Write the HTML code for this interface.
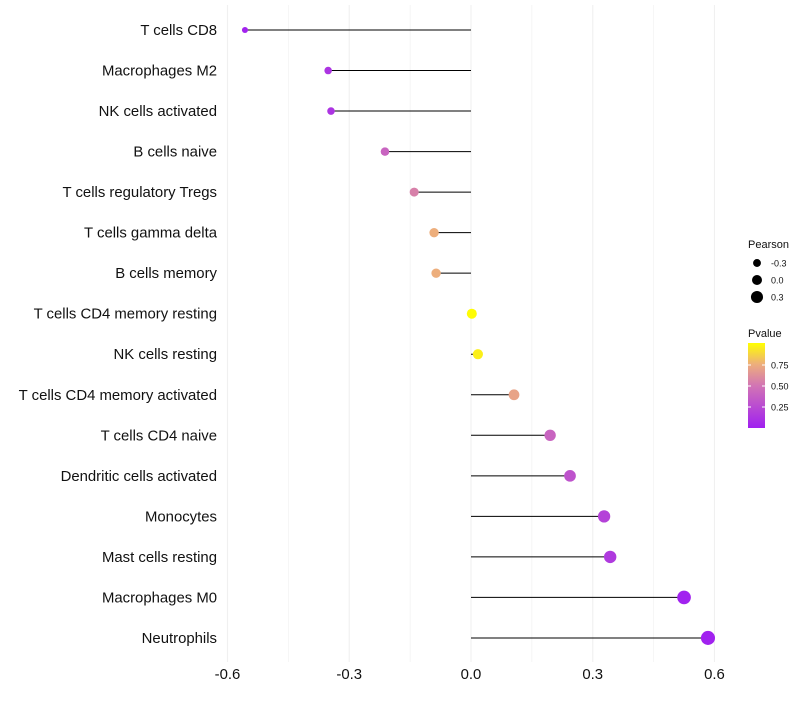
<!DOCTYPE html>
<html><head><meta charset="utf-8"><style>
body{margin:0;background:#fff;font-family:"Liberation Sans",sans-serif}
</style></head><body>
<svg id="c" width="800" height="700" xmlns="http://www.w3.org/2000/svg">
<defs><linearGradient id="pg" x1="0" y1="1" x2="0" y2="0">
<stop offset="0" stop-color="#A020F0"/><stop offset="0.5" stop-color="#D275B4"/><stop offset="0.75" stop-color="#EDAE7C"/><stop offset="1" stop-color="#FFFF00"/></linearGradient></defs>
</svg>
<script>
const cells=["T cells CD8","Macrophages M2","NK cells activated","B cells naive","T cells regulatory  Tregs ","T cells gamma delta","B cells memory","T cells CD4 memory resting","NK cells resting","T cells CD4 memory activated","T cells CD4 naive","Dendritic cells activated","Monocytes","Mast cells resting","Macrophages M0","Neutrophils"];
const pearson=[-0.557,-0.352,-0.345,-0.212,-0.140,-0.091,-0.086,0.002,0.017,0.106,0.195,0.244,0.328,0.343,0.525,0.584];
const pvalue=[0.02,0.12,0.12,0.4,0.55,0.75,0.75,0.99,0.95,0.7,0.4,0.3,0.2,0.15,0.01,0.01];
const xTicks=[-0.6,-0.3,0.0,0.3,0.6];
const xTickLabels=["-0.6","-0.3","0.0","0.3","0.6"];
const ns="http://www.w3.org/2000/svg",svg=document.getElementById('c');
const x=v=>471+v*405.8, y=i=>30+i*40.53, r=v=>Math.max(1.8,5+3.5*v);
function mk(t,a,p){const e=document.createElementNS(ns,t);for(const k in a)e.setAttribute(k,a[k]);(p||svg).appendChild(e);return e;}
function hex(h){return [1,3,5].map(i=>parseInt(h.substr(i,2),16));}
const stops=[[0,"#A020F0"],[0.5,"#D275B4"],[0.75,"#EDAE7C"],[1,"#FFFF00"]];
function col(p){for(let i=1;i<stops.length;i++){if(p<=stops[i][0]){const t=(p-stops[i-1][0])/(stops[i][0]-stops[i-1][0]);const a=hex(stops[i-1][1]),b=hex(stops[i][1]);return `rgb(${a.map((c,j)=>Math.round(c+(b[j]-c)*t)).join(',')})`;}}return "#FFFF00";}
for(let v=-0.6;v<=0.61;v+=0.15){const e=mk('line',{x1:x(v),x2:x(v),y1:5,y2:662,stroke:'#f0f0f0','stroke-width':Math.abs(Math.round(v/0.15))%2?0.6:1.1});

}
xTicks.forEach((v,i)=>{const t=mk('text',{x:x(v),y:679,'text-anchor':'middle','font-size':14.9,fill:'#111'});t.textContent=xTickLabels[i];

});
cells.forEach((c,i)=>{
const t=mk('text',{x:217,y:y(i)+5,'text-anchor':'end','font-size':14.9,fill:'#111','xml:space':'preserve'});t.textContent=c;


const l=mk('line',{x1:x(0),x2:x(pearson[i]),y1:y(i),y2:y(i),stroke:'#000','stroke-width':1});


const p=mk('circle',{cx:x(pearson[i]),cy:y(i),r:r(pearson[i]),fill:col(pvalue[i])});


});
const g=mk('g',{});
let t=mk('text',{x:748,y:248,'font-size':11,fill:'#111'},g);t.textContent='Pearson';
[[-0.3,263],[0,280],[0.3,297]].forEach(([v,yy])=>{mk('circle',{cx:757,cy:yy,r:r(v),fill:'#000'},g);const s=mk('text',{x:771,y:yy+3.5,'font-size':9,fill:'#111'},g);s.textContent=v.toFixed(1);});
t=mk('text',{x:748,y:337,'font-size':11,fill:'#111'},g);t.textContent='Pvalue';
mk('rect',{x:748,y:343,width:17,height:85,fill:'url(#pg)'},g);
[[0.75,365],[0.5,386],[0.25,407]].forEach(([v,yy])=>{mk('line',{x1:748,x2:751,y1:yy,y2:yy,stroke:'#fff'},g);mk('line',{x1:762,x2:765,y1:yy,y2:yy,stroke:'#fff'},g);const s=mk('text',{x:771,y:yy+3.5,'font-size':9,fill:'#111'},g);s.textContent=v.toFixed(2);});
</script>
</body></html>
